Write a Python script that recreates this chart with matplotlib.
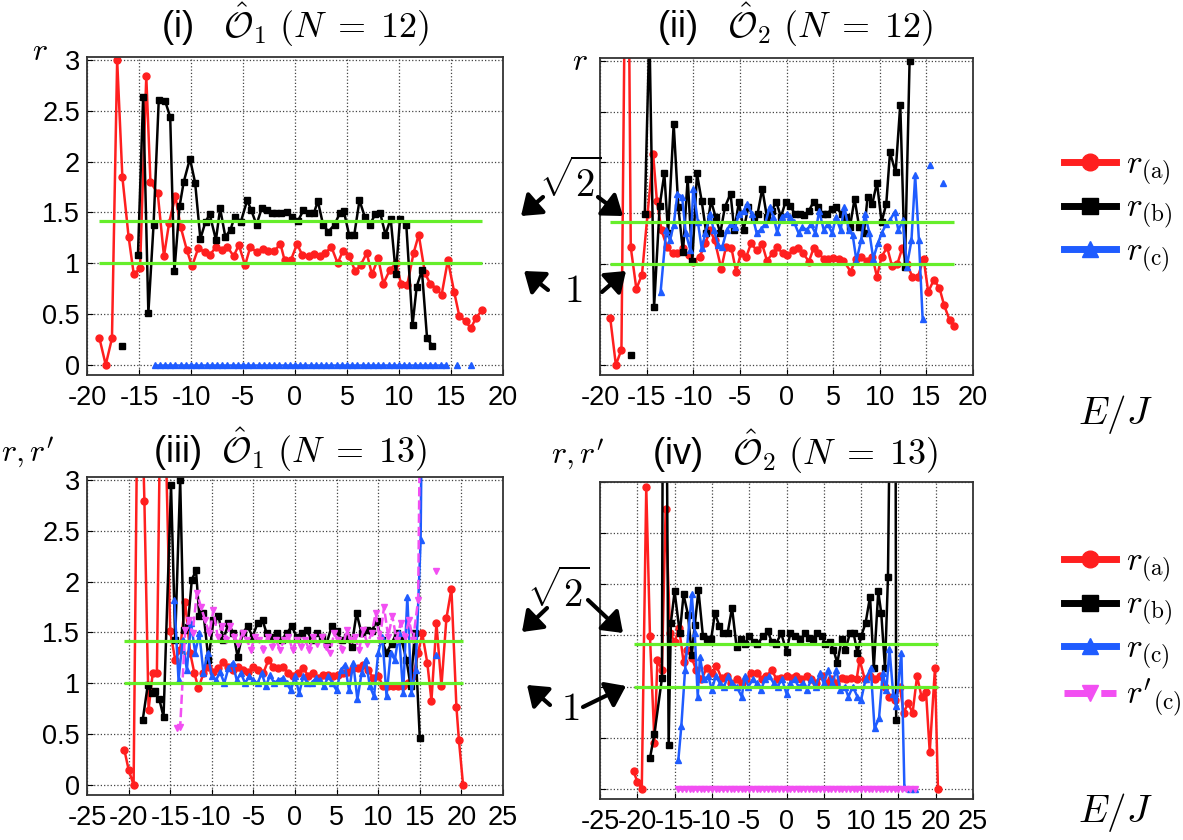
import numpy as np
import matplotlib.pyplot as plt
from matplotlib.lines import Line2D
from matplotlib.patches import FancyArrowPatch

plt.rcParams['font.family'] = ['Liberation Sans', 'DejaVu Sans']
plt.rcParams['mathtext.fontset'] = 'cm'

nan = np.nan

# ---- panel (i): O1, N=12 ----
e1_a = [-18.8, -18.2, -17.6, -17.1, -16.6, -16.0, -15.5, -14.9, -14.3, -13.9, -13.2, -12.6, -12.1, -11.5,
        -11.0, -10.4, -9.9, -9.3, -8.7, -8.2, -7.6, -7.0, -6.5, -5.9, -5.4, -4.8, -4.3, -3.7, -3.1, -2.6,
        -2.0, -1.4, -1.0, -0.4, 0.2, 0.7, 1.3, 1.8, 2.4, 2.9, 3.5, 4.1, 4.6, 5.2, 5.8, 6.3, 6.9, 7.4, 8.0,
        8.5, 9.1, 9.7, 10.2, 10.8, 11.4, 11.9, 12.5, 13.0, 13.6, 14.1, 14.7, 15.3, 15.8, 16.4, 16.9, 17.4, 18.0]
r1_a = [0.26, 0.0, 0.26, 3.0, 1.85, 1.26, 0.89, 0.95, 2.84, 1.80, 1.69, 1.07, 1.40, 1.66, 1.36, 1.13, 0.97,
        1.15, 1.11, 1.08, 1.16, 1.13, 1.16, 1.07, 1.18, 0.98, 1.16, 1.11, 1.14, 1.12, 1.12, 1.19, 1.03, 1.03,
        1.19, 1.08, 1.07, 1.09, 1.07, 1.10, 1.16, 1.00, 1.12, 1.07, 0.92, 0.98, 1.10, 0.89, 1.05, 0.80, 0.93,
        1.00, 0.80, 0.79, 1.10, 1.28, 0.90, 0.80, 0.75, 0.69, 1.03, 0.72, 0.48, 0.43, 0.36, 0.46, 0.54]
e1_b = [-16.6, -15.9, -15.1, -14.6, -14.1, -13.6, -13.1, -12.5, -12.0, -11.6, -11.1, -10.7, -10.1, -9.6,
        -9.1, -8.6, -8.2, -7.6, -7.2, -6.7, -6.2, -5.8, -5.2, -4.6, -4.2, -3.7, -3.2, -2.7, -2.2, -1.8, -1.3,
        -0.8, -0.3, 0.3, 0.8, 1.3, 1.8, 2.2, 2.7, 3.2, 3.8, 4.3, 4.7, 5.2, 5.7, 6.2, 6.7, 7.2, 7.7, 8.2, 8.7,
        9.2, 9.7, 10.1, 10.7, 11.3, 11.7, 12.2, 12.7, 13.2]
r1_b = [0.19, nan, 1.08, 2.64, 0.51, 1.38, 2.61, 2.60, 2.44, 0.92, 1.56, 1.80, 2.03, 1.79, 1.24, 1.41, 1.48,
        1.23, 1.54, 1.26, 1.33, 1.46, 1.41, 1.62, 1.52, 1.38, 1.54, 1.52, 1.49, 1.49, 1.49, 1.50, 1.46, 1.42,
        1.52, 1.49, 1.49, 1.61, 1.38, 1.31, 1.38, 1.49, 1.51, 1.28, 1.28, 1.62, 1.46, 1.38, 1.48, 1.49, 1.28,
        1.44, 0.89, 1.44, 1.38, 0.39, 0.77, 0.93, 0.26, 0.19]
e1_c = [-13.5, -13.0, -12.5, -12.0, -11.5, -11.0, -10.5, -10.0, -9.5, -9.0, -8.5, -8.0, -7.5, -7.0, -6.5,
        -6.0, -5.5, -5.0, -4.5, -4.0, -3.5, -3.0, -2.5, -2.0, -1.5, -1.0, -0.5, 0.0, 0.5, 1.0, 1.5, 2.0, 2.5,
        3.0, 3.5, 4.0, 4.5, 5.0, 5.5, 6.0, 6.5, 7.0, 7.5, 8.0, 8.5, 9.0, 9.5, 10.0, 10.5, 11.0, 11.5, 12.0,
        12.5, 13.0, 13.5, 14.0, 14.5, 15.0, 15.6, 16.2, 16.9]
r1_c = [0.0] * 57 + [nan, 0.0, nan, 0.0]

# ---- panel (ii): O2, N=12 ----
e2_a = [-18.9, -18.3, -17.7, -17.1, -16.7, -16.1, -15.5, -14.9, -14.3, -13.9, -13.4, -12.8, -12.2, -11.7,
        -11.1, -10.5, -10.0, -9.3, -8.7, -8.2, -7.7, -7.0, -6.5, -5.9, -5.4, -4.9, -4.3, -3.8, -3.2, -2.6,
        -2.1, -1.5, -1.0, -0.4, 0.1, 0.7, 1.2, 1.8, 2.4, 2.9, 3.4, 4.0, 4.5, 5.0, 5.6, 6.1, 6.9, 7.4, 8.0,
        8.6, 9.2, 9.7, 10.2, 10.8, 11.3, 11.9, 12.4, 12.9, 13.5, 14.1, 14.7, 15.2, 15.8, 16.4, 16.9, 17.5, 18.0]
r2_a = [0.46, 0.0, 0.15, 6.0, 1.16, 0.75, 0.89, 1.49, 2.08, 1.62, 1.33, 1.16, 1.10, 1.10, 1.15, 1.08, 1.02,
        1.07, 1.20, 1.33, 1.23, 0.95, 1.16, 1.15, 0.92, 1.10, 1.07, 1.20, 1.13, 1.19, 1.03, 1.10, 1.16, 1.10,
        1.08, 1.13, 1.15, 1.10, 1.02, 1.15, 1.10, 1.05, 1.05, 1.06, 1.05, 1.03, 0.92, 1.05, 1.07, 1.03, 1.07,
        0.87, 1.07, 1.16, 0.98, 1.00, 1.15, 1.00, 0.87, 0.87, 1.05, 0.72, 0.84, 0.76, 0.59, 0.44, 0.38]
e2_b = [-16.7, -16.0, -15.2, -14.7, -14.2, -13.6, -13.1, -12.7, -12.1, -11.6, -11.1, -10.6, -10.1, -9.6,
        -9.1, -8.6, -8.1, -7.6, -7.1, -6.6, -6.0, -5.6, -5.1, -4.6, -4.1, -3.5, -3.1, -2.6, -2.1, -1.6, -1.1,
        -0.6, -0.1, 0.4, 0.9, 1.4, 1.9, 2.4, 2.9, 3.4, 3.9, 4.3, 4.9, 5.3, 5.9, 6.4, 6.8, 7.3, 7.8, 8.3, 8.7,
        9.2, 9.7, 10.2, 10.7, 11.1, 11.7, 12.2, 12.7, 13.2]
r2_b = [0.10, nan, 1.49, 3.3, 0.57, 1.57, 1.89, 1.30, 2.38, 1.56, 1.11, 1.84, 1.03, 1.89, 1.62, 1.30, 1.62,
        1.46, 1.30, 1.56, 1.69, 1.33, 1.61, 1.33, 1.56, 1.46, 1.49, 1.74, 1.46, 1.52, 1.61, 1.46, 1.61, 1.57,
        1.49, 1.49, 1.48, 1.52, 1.61, 1.56, 1.49, 1.49, 1.54, 1.56, 1.49, 1.46, 1.36, 1.64, 1.36, 1.30, 1.66,
        1.59, 1.80, 1.41, 1.59, 2.10, 1.90, 2.57, 0.97, 3.0]
e2_c = [-13.5, -12.9, -12.5, -12.1, -11.7, -11.2, -10.8, -10.3, -10.0, -9.5, -9.1, -8.7, -8.2, -7.8, -7.3,
        -6.9, -6.4, -6.0, -5.5, -5.1, -4.6, -4.2, -3.7, -3.2, -2.7, -2.3, -1.8, -1.4, -1.0, -0.5, 0.0, 0.4,
        0.8, 1.3, 1.7, 2.2, 2.6, 3.1, 3.5, 4.0, 4.4, 4.9, 5.3, 5.8, 6.2, 6.7, 7.1, 7.5, 8.0, 8.4, 8.9, 9.3,
        9.8, 10.2, 10.7, 11.1, 11.6, 12.0, 12.5, 12.9, 13.4, 13.8, 14.2, 14.6, 15.0, 15.4, 16.1, 16.8]
r2_c = [0.72, 1.33, 1.23, 1.38, 1.69, 1.66, 1.30, 1.13, 1.74, 1.41, 1.15, 1.30, 1.49, 1.33, 1.18, 1.16, 1.33,
        1.39, 1.36, 1.49, 1.52, 1.59, 1.49, 1.30, 1.34, 1.39, 1.56, 1.46, 1.31, 1.46, 1.49, 1.46, 1.41, 1.30,
        1.36, 1.33, 1.39, 1.30, 1.52, 1.33, 1.39, 1.30, 1.46, 1.33, 1.56, 1.33, 1.28, 1.03, 1.23, 1.49, 1.30,
        1.05, 1.20, 1.30, 1.39, 1.43, 1.51, 1.33, 1.43, 0.97, 1.23, 1.87, 1.23, 0.45, nan, 1.97, nan, 1.80]

# ---- panel (iii): O1, N=13 ----
e3_a = [-20.5, -20.0, -19.4, -18.8, -18.1, -17.6, -17.1, -16.6, -16.0, -15.0, -14.4, -13.8, -13.2, -12.6,
        -12.1, -11.6, -11.0, -10.4, -9.8, -9.2, -8.6, -8.0, -7.4, -6.8, -6.2, -5.6, -5.0, -4.4, -3.8, -3.2,
        -2.6, -2.0, -1.4, -0.8, -0.2, 0.4, 1.0, 1.6, 2.2, 2.8, 3.4, 4.0, 4.6, 5.2, 5.8, 6.4, 7.0, 7.6, 8.2,
        8.8, 9.4, 10.0, 10.6, 11.2, 11.8, 12.4, 13.0, 13.6, 14.2, 14.8, 15.3, 15.9, 16.4, 17.0, 17.6, 18.2,
        18.8, 19.4, 19.7, 20.2]
r3_a = [0.34, 0.15, 0.0, 5.0, 2.79, 0.74, 1.10, 1.10, 5.0, 1.51, 1.23, 1.33, 1.80, 1.30, 1.10, 0.95, 1.10,
        1.16, 1.11, 1.15, 1.21, 1.16, 1.13, 1.16, 1.13, 1.11, 1.16, 1.13, 1.10, 1.23, 1.16, 1.15, 1.16, 1.10,
        1.07, 1.10, 1.15, 1.07, 1.10, 1.05, 1.08, 1.08, 1.07, 1.08, 1.10, 1.11, 1.15, 1.15, 1.18, 1.13, 1.05,
        1.07, 0.97, 0.97, 0.97, 0.97, 0.97, 1.00, 1.07, 1.30, 1.49, 1.20, 0.83, 1.59, 0.97, 1.64, 1.93, 0.77,
        0.44, 0.0]
e3_b = [-18.3, -17.7, -17.2, -16.8, -16.3, -15.8, -14.9, -14.4, -13.8, -13.4, -12.9, -12.4, -11.9, -11.5,
        -11.0, -10.4, -9.8, -9.2, -8.6, -8.0, -7.4, -6.9, -6.3, -5.7, -5.1, -4.5, -3.9, -3.4, -2.8, -2.2,
        -1.6, -1.0, -0.4, 0.2, 0.8, 1.4, 2.0, 2.6, 3.2, 3.8, 4.4, 5.0, 5.6, 6.2, 6.8, 7.4, 8.0, 8.6, 9.2, 9.8,
        10.4, 11.0, 11.6, 12.2, 12.8, 13.4, 13.9, 14.4, 15.0]
r3_b = [0.64, 0.98, 0.90, 0.92, 0.84, 0.67, 2.95, 1.43, 3.0, 1.52, 1.55, 2.02, 2.11, 1.66, 1.69, 1.23, 1.62,
        1.66, 1.43, 1.59, 1.49, 1.26, 1.49, 1.56, 1.46, 1.59, 1.62, 1.49, 1.46, 1.49, 1.43, 1.49, 1.56, 1.46,
        1.49, 1.52, 1.43, 1.49, 1.46, 1.39, 1.56, 1.51, 1.43, 1.46, 1.36, 1.69, 1.49, 1.52, 1.51, 1.61, 1.43,
        1.30, 1.39, 1.49, 1.43, 1.23, 0.97, 1.49, 0.46]
e3_c = [-14.5, -14.0, -13.5, -13.0, -12.5, -12.0, -11.5, -11.0, -10.5, -10.0, -9.5, -9.0, -8.5, -8.0, -7.5,
        -7.0, -6.5, -6.0, -5.5, -5.0, -4.5, -4.0, -3.5, -3.0, -2.5, -2.0, -1.5, -1.0, -0.5, 0.0, 0.5, 1.0,
        1.5, 2.0, 2.5, 3.0, 3.5, 4.0, 4.5, 5.0, 5.5, 6.0, 6.5, 7.0, 7.5, 8.0, 8.5, 9.0, 9.5, 10.0, 10.5,
        11.0, 11.5, 12.0, 12.5, 13.0, 13.5, 14.0, 14.5, 15.1, 15.4, 16.2, 17.0]
r3_c = [1.82, 1.03, 1.43, 1.13, 1.59, 1.30, 1.49, 1.10, 1.30, 1.07, 1.03, 1.11, 1.00, 1.15, 1.20, 1.03, 1.10,
        1.00, 1.07, 1.03, 1.00, 1.10, 0.97, 1.08, 1.00, 1.03, 1.05, 1.00, 0.93, 1.07, 0.90, 1.07, 1.00, 1.00,
        1.05, 1.03, 0.97, 1.07, 1.00, 0.93, 1.13, 1.18, 0.93, 1.20, 0.84, 1.10, 1.23, 0.97, 0.87, 1.30, 1.46,
        0.87, 1.30, 1.23, 1.49, 0.90, 1.85, 0.90, 1.13, 2.41, 5.0, nan, 1.28]
e3_d = [-14.2, -13.8, -13.2, -12.8, -12.3, -11.8, -11.3, -10.8, -10.3, -9.8, -9.3, -8.8, -8.3, -7.8, -7.3,
        -6.8, -6.3, -5.8, -5.3, -4.8, -4.3, -3.8, -3.3, -2.8, -2.3, -1.8, -1.3, -0.8, -0.3, 0.2, 0.7, 1.2,
        1.7, 2.2, 2.7, 3.2, 3.7, 4.2, 4.7, 5.2, 5.7, 6.2, 6.7, 7.2, 7.7, 8.2, 8.7, 9.2, 9.7, 10.2, 10.7,
        11.2, 11.7, 12.2, 12.7, 13.2, 13.7, 14.2, 14.8, 15.2, 16.1, 17.0]
r3_d = [0.56, 0.57, 1.52, 1.62, 1.49, 1.89, 1.75, 1.62, 1.49, 1.72, 1.46, 1.56, 1.43, 1.56, 1.46, 1.39, 1.49,
        1.43, 1.33, 1.46, 1.43, 1.33, 1.46, 1.36, 1.43, 1.33, 1.43, 1.46, 1.33, 1.43, 1.36, 1.43, 1.33, 1.46,
        1.39, 1.46, 1.36, 1.30, 1.49, 1.43, 1.33, 1.52, 1.43, 1.46, 1.33, 1.52, 1.39, 1.49, 1.69, 1.43, 1.75,
        1.46, 1.66, 1.43, 1.59, 1.46, 1.62, 1.43, 1.82, 5.0, nan, 2.10]

# ---- panel (iv): O2, N=13 ----
e4_a = [-20.5, -20.0, -19.4, -18.8, -18.3, -17.7, -17.3, -16.7, -16.2, -15.6, -15.0, -14.4, -13.8, -13.3,
        -12.7, -12.1, -11.4, -10.7, -10.0, -9.4, -8.7, -8.0, -7.4, -6.7, -6.0, -5.4, -4.7, -4.0, -3.3, -2.7,
        -2.0, -1.3, -0.7, 0.0, 0.7, 1.3, 2.0, 2.7, 3.3, 4.0, 4.7, 5.4, 6.0, 6.7, 7.4, 8.0, 8.7, 9.4, 9.8,
        10.5, 11.2, 11.8, 12.5, 13.2, 13.8, 14.5, 15.2, 15.7, 16.3, 16.9, 17.5, 18.1, 18.7, 19.2, 19.9, 20.3]
r4_a = [0.17, 0.07, 0.0, 2.95, 1.49, 0.45, 1.26, 1.16, 2.74, 1.52, 1.44, 1.57, 1.24, 1.36, 1.28, 1.16, 1.07,
        1.18, 1.13, 1.20, 1.08, 1.10, 1.03, 1.07, 1.03, 1.07, 1.13, 1.13, 1.07, 1.10, 1.16, 1.07, 1.08, 1.10,
        1.08, 1.10, 1.07, 1.10, 1.07, 1.03, 1.10, 1.03, 1.07, 1.03, 1.08, 1.07, 1.08, 1.07, 1.26, 1.07, 1.10,
        1.07, 1.10, 1.00, 0.90, 0.87, 1.00, 0.74, 0.84, 0.74, 1.10, 0.90, 0.95, 0.36, 1.18, 0.0]
e4_b = [-18.3, -17.7, -16.7, -16.4, -15.8, -15.5, -15.0, -14.3, -13.8, -13.2, -12.7, -12.3, -11.8, -11.2,
        -10.7, -10.1, -9.6, -9.0, -8.5, -7.9, -7.3, -6.7, -6.1, -5.6, -5.0, -4.4, -3.9, -3.1, -2.5, -2.0,
        -1.4, -0.7, 0.0, 0.5, 1.1, 1.8, 2.5, 3.0, 3.6, 4.1, 4.7, 5.2, 5.8, 6.3, 6.8, 7.4, 7.9, 8.5, 9.0, 9.5,
        10.0, 10.6, 11.2, 11.7, 12.3, 12.7, 13.2, 13.6, 14.5, 14.7]
r4_b = [0.30, 0.54, 1.08, 8.0, 0.43, 1.62, 1.93, 1.52, 1.90, 1.70, 1.31, 1.60, 1.94, 1.49, 1.46, 1.46, 1.72,
        1.59, 1.52, 1.52, 1.77, 1.39, 1.46, 1.42, 1.49, 1.44, 1.42, 1.49, 1.54, 1.44, 1.42, 1.52, 1.34, 1.52,
        1.49, 1.46, 1.52, 1.47, 1.46, 1.52, 1.49, 1.42, 1.44, 1.36, 1.23, 1.46, 1.36, 1.52, 1.52, 1.33, 1.49,
        1.62, 1.88, 1.18, 1.93, 1.72, 1.18, 2.07, 8.0, 0.67]
e4_c = [-14.5, -14.1, -13.6, -12.7, -12.3, -11.9, -11.6, -11.1, -10.5, -10.0, -9.5, -8.9, -8.4, -7.8, -7.3,
        -6.7, -6.0, -5.6, -5.1, -4.5, -4.0, -3.4, -2.9, -2.3, -1.7, -1.2, -0.6, 0.0, 0.5, 1.1, 1.6, 2.2, 2.8,
        3.3, 3.9, 4.5, 5.0, 5.6, 6.1, 6.7, 7.2, 7.8, 8.3, 8.9, 9.5, 10.0, 10.6, 11.3, 11.8, 12.4, 12.9, 13.4,
        13.8, 14.3, 14.7, 15.4, 15.8, 16.5, 17.2]
r4_c = [0.28, 0.61, 1.16, 1.90, 1.52, 0.90, 1.29, 1.07, 1.10, 0.97, 1.10, 1.03, 1.00, 1.10, 1.03, 1.00, 0.90,
        1.10, 1.00, 1.07, 1.03, 0.97, 1.07, 1.10, 1.03, 1.00, 1.07, 0.93, 1.03, 1.07, 1.00, 1.03, 0.97, 1.07,
        1.00, 1.13, 1.03, 1.16, 1.03, 1.16, 0.97, 1.00, 0.90, 1.00, 0.90, 0.87, 1.07, 1.18, 0.59, 0.69, 1.13,
        0.97, 1.37, 0.93, 0.81, 1.33, 0.02, 0.0, 0.0]
e4_d = [-14.5, -14.0, -13.5, -13.0, -12.5, -12.0, -11.5, -11.0, -10.5, -10.0, -9.5, -9.0, -8.5, -8.0, -7.5,
        -7.0, -6.5, -6.0, -5.5, -5.0, -4.5, -4.0, -3.5, -3.0, -2.5, -2.0, -1.5, -1.0, -0.5, 0.0, 0.5, 1.0,
        1.5, 2.0, 2.5, 3.0, 3.5, 4.0, 4.5, 5.0, 5.5, 6.0, 6.5, 7.0, 7.5, 8.0, 8.5, 9.0, 9.5, 10.0, 10.5,
        11.0, 11.5, 12.0, 12.5, 13.0, 13.5, 14.0, 14.5, 15.0, 15.5, 16.0, 16.5, 16.9, 17.2]
r4_d = [0.0] * 63 + [nan, 0.0]

# reference levels (sqrt2 and 1) and the E range they span in each panel
levels = [np.sqrt(2), 1.0]
spans = [(-18.8, 18.0), (-18.9, 18.0), (-20.5, 20.2), (-20.5, 20.3)]

titles = [r'(i)   $\hat{\mathcal{O}}_1\ (N\;=\;12)$', r'(ii)   $\hat{\mathcal{O}}_2\ (N\;=\;12)$',
          r'(iii)  $\hat{\mathcal{O}}_1\ (N\;=\;13)$', r'(iv)   $\hat{\mathcal{O}}_2\ (N\;=\;13)$']
yticks = [0, 0.5, 1, 1.5, 2, 2.5, 3]
ytick_labels = ['0', '0.5', '1', '1.5', '2', '2.5', '3']
xticks_12 = [-20, -15, -10, -5, 0, 5, 10, 15, 20]
xticks_13 = [-25, -20, -15, -10, -5, 0, 5, 10, 15, 20, 25]

RED = '#ff1f1f'
BLACK = '#000000'
BLUE = '#1f5cff'
MAG = '#f24ff2'
GREEN = '#66ee2a'

W, H = 1183, 840
fig = plt.figure(figsize=(W / 100, H / 100), dpi=100)


def px_axes(l, t, r, b):
    return fig.add_axes([l / W, 1 - b / H, (r - l) / W, (b - t) / H])


def style(ax, xticks, ylim, show_y):
    ax.set_xlim(xticks[0], xticks[-1])
    ax.set_ylim(*ylim)
    ax.set_xticks(xticks)
    ax.set_xticklabels([str(t) for t in xticks])
    ax.set_yticks(yticks)
    ax.set_yticklabels(ytick_labels if show_y else [])
    ax.grid(True, ls=':', color='#444444', lw=0.9)
    ax.tick_params(direction='in', length=4, labelsize=19.5, width=0.8)
    ax.tick_params(axis='x', pad=7)
    ax.tick_params(axis='y', pad=5)
    for s in ax.spines.values():
        s.set_linewidth(1.3)
        s.set_color('#333333')


def draw(ax, series, span):
    for e, r, c, m, ls in series:
        ax.plot(e, r, color=c, marker=m, ms=5, lw=1.8, ls=ls)
    ax.hlines(levels, span[0], span[1], colors=GREEN, lw=2.3, zorder=5)


ax1 = px_axes(87, 57, 503, 375)
ax2 = px_axes(600, 58, 973, 375)
ax3 = px_axes(87, 477, 503, 795)
ax4 = px_axes(600, 482, 973, 799)

draw(ax1, [(e1_a, r1_a, RED, 'o', '-'), (e1_b, r1_b, BLACK, 's', '-'),
           (e1_c, r1_c, BLUE, '^', '-')], spans[0])
draw(ax2, [(e2_a, r2_a, RED, 'o', '-'), (e2_b, r2_b, BLACK, 's', '-'),
           (e2_c, r2_c, BLUE, '^', '-')], spans[1])
draw(ax3, [(e3_a, r3_a, RED, 'o', '-'), (e3_b, r3_b, BLACK, 's', '-'),
           (e3_c, r3_c, BLUE, '^', '-'), (e3_d, r3_d, MAG, 'v', '--')], spans[2])
draw(ax4, [(e4_a, r4_a, RED, 'o', '-'), (e4_b, r4_b, BLACK, 's', '-'),
           (e4_c, r4_c, BLUE, '^', '-'), (e4_d, r4_d, MAG, 'v', '--')], spans[3])

style(ax1, xticks_12, (-0.1, 3.03), True)
style(ax2, xticks_12, (-0.1, 3.03), False)
style(ax3, xticks_13, (-0.1, 3.03), True)
style(ax4, xticks_13, (-0.1, 3.0), False)

# titles and axis labels
for (x, y), t in zip([(295, 25), (795, 25), (290, 450), (795, 452)], titles):
    fig.text(x / W, 1 - y / H, t, ha='center', va='center', fontsize=26)
for (x, y), t in zip([(40, 52), (580, 62), (28, 453), (578, 455)],
                     [r'$r$', r'$r$', r"$r,r'$", r"$r,r'$"]):
    fig.text(x / W, 1 - y / H, t, ha='center', va='center', fontsize=23)
for y in [414, 812]:
    fig.text(1115 / W, 1 - y / H, r'$E/J$', ha='center', va='center', fontsize=28)

# sqrt2 / 1 markers with arrows between the columns
for (x, y), t in zip([(570, 182), (573, 292), (558, 592), (570, 710)],
                     [r'$\sqrt{2}$', r'$1$', r'$\sqrt{2}$', r'$1$']):
    fig.text(x / W, 1 - y / H, t, ha='center', va='center', fontsize=28)
arrows = [((543, 197), (521, 216)), ((598, 197), (623, 216)),
          ((548, 290), (524, 271)), ((602, 292), (626, 271)),
          ((547, 608), (522, 632)), ((588, 600), (623, 633)),
          ((550, 705), (527, 685)), ((583, 707), (626, 686))]
for (x0, y0), (x1, y1) in arrows:
    fig.add_artist(FancyArrowPatch((x0 / W, 1 - y0 / H), (x1 / W, 1 - y1 / H),
                                   transform=fig.transFigure, color='k', lw=3.0,
                                   arrowstyle='-|>,head_length=0.55,head_width=0.4',
                                   mutation_scale=21, shrinkA=0, shrinkB=0))

# legends at the right edge
names = [r'$r_{\rm (a)}$', r'$r_{\rm (b)}$', r'$r_{\rm (c)}$', r"$r'_{\rm (c)}$"]
handles = [Line2D([], [], color=RED, marker='o', lw=5, ms=12),
           Line2D([], [], color=BLACK, marker='s', lw=5, ms=11),
           Line2D([], [], color=BLUE, marker='^', lw=5, ms=11),
           Line2D([], [], color=MAG, marker='v', lw=5, ms=11, ls='--')]
for n, y in [(3, 150), (4, 547)]:
    fig.legend(handles[:n], names[:n], loc='upper left', bbox_to_anchor=(1064 / W, 1 - y / H),
               bbox_transform=fig.transFigure, frameon=False, fontsize=24, handlelength=1.55,
               handletextpad=0.3, labelspacing=0.15, borderpad=0, borderaxespad=0)

fig.savefig('out.png', dpi=100)
